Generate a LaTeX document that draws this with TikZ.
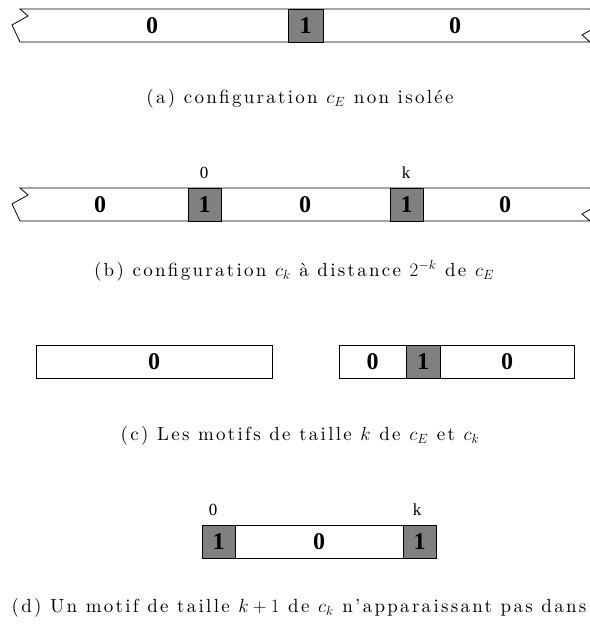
\RequirePackage{fix-cm}
\documentclass[tikz,border=0pt]{standalone}
\usepackage{fontspec}
\newfontfamily\tms{Liberation Serif}
\newfontfamily\capfont{lmroman10-regular}[Extension=.otf, LetterSpace=12, Ligatures=TeX]
\begin{document}
\begin{tikzpicture}[x=1pt,y=1pt,
  line/.style={line width=0.8pt, line join=miter},
  cell/.style={draw, line width=0.8pt, minimum height=33pt, inner sep=0pt, font=\tms\bfseries\fontsize{24}{24}\selectfont},
  graycell/.style={cell, fill=black!50},
  digit/.style={inner sep=0pt, font=\tms\bfseries\fontsize{24}{24}\selectfont},
  idx/.style={inner sep=0pt, font=\tms\fontsize{17}{17}\selectfont},
  caption/.style={inner sep=0pt, font=\capfont\fontsize{19}{21}\selectfont}]
\path[use as bounding box] (0,0) rectangle (590,625);
\clip (0,0) rectangle (590,625);
% (a)
\draw[line] (20,616) -- (28,609) -- (12,600) -- (20,583) -- (590,583) -- (582,590) -- (598,599) -- (590,616) -- cycle;
\node[graycell, minimum width=35pt] (a1) at (305.5,599.5) {1};
\node[digit] (a0l) at (152,599.5) {0};
\node[digit] (a0r) at (455,599.5) {0};
\node[caption] (capa) at (300,526) {(a) configuration $c_E$ non isolée};
% (b)
\draw[line] (20,437) -- (28,430) -- (12,421) -- (20,404) -- (590,404) -- (582,411) -- (598,420) -- (590,437) -- cycle;
\node[graycell, minimum width=33pt] (b1) at (204.5,420.5) {1};
\node[graycell, minimum width=33pt] (b2) at (406.5,420.5) {1};
\node[digit] (b0a) at (100,420.5) {0};
\node[digit] (b0b) at (305,420.5) {0};
\node[digit] (b0c) at (505,420.5) {0};
\node[idx] (bi0) at (204,452) {0};
\node[idx] (bik) at (406,452) {k};
\node[caption] (capb) at (294,354) {(b) configuration $c_k$ à distance $2^{-k}$ de $c_E$};
% (c)
\node[cell, minimum width=236pt] (c0) at (154,263.5) {0};
\node[cell, minimum width=67pt] (c2) at (372.5,263.5) {0};
\node[graycell, minimum width=34pt] (c3) at (423,263.5) {1};
\node[cell, minimum width=134pt] (c4) at (507,263.5) {0};
\node[caption] (capc) at (300,189) {(c) Les motifs de taille $k$ de $c_E$ et $c_k$};
% (d)
\node[graycell, minimum width=33pt] (d1) at (218.5,83.5) {1};
\node[cell, minimum width=168pt] (d2) at (319,83.5) {0};
\node[graycell, minimum width=33pt] (d3) at (419.5,83.5) {1};
\node[idx] (di0) at (213,115) {0};
\node[idx] (dik) at (417,115) {k};
\node[caption] (capd) at (299,17) {(d) Un motif de taille $k+1$ de $c_k$ n'apparaissant pas dans};
\end{tikzpicture}
\end{document}
